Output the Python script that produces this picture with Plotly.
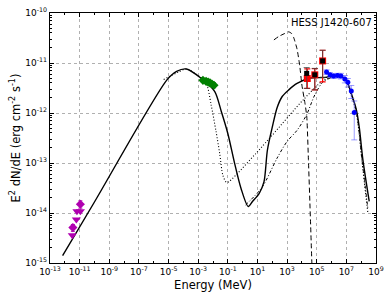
import plotly.graph_objects as go

# ---- model curves (E in MeV, E^2 dN/dE in erg cm^-2 s^-1) ----
solid_E = [7.1e-13, 1e-10, 7.8e-6, 3.5e-5, 1.6e-4, 1.66e-3, 1.29e-2, 3.55e-2, 1e-1, 2.8e-1,
           7.8e-1, 2.4, 4.6, 12.9, 27.5, 46.8, 100, 214, 468, 1290, 4700, 3.5e4, 2.75e5,
           4.7e5, 3.4e6, 1e7, 2.1e7, 4.7e7, 7.4e7, 1.3e8, 3.5e8]
solid_F = [1.41e-15, 1.66e-14, 4.6e-12, 6.8e-12, 7.6e-12, 4.9e-12, 2.7e-12, 1.1e-12, 3.9e-13, 1.02e-13,
           3.1e-14, 1.35e-14, 1.7e-14, 2.45e-14, 4.2e-14, 1.8e-13, 5.2e-13, 1.29e-12, 2.14e-12, 2.9e-12, 3.9e-12, 5.0e-12, 5.1e-12,
           5.2e-12, 5.6e-12, 4.5e-12, 2.5e-12, 1.17e-12, 5.2e-13, 1.17e-13, 1.7e-14]

dot_E = [4.7e-6, 4.7e-5, 1.6e-4, 1e-3, 3.4e-3, 7.4e-3, 1.58e-2, 2.8e-2, 4.7e-2, 8e-2, 1.26e-1,
         47, 1.29e4, 2.95e5, 3.4e6, 1e7, 2.1e7, 4.7e7, 1.17e8, 2.8e8]
dot_F = [4.7e-12, 6.6e-12, 7.6e-12, 5.6e-12, 4.0e-12, 1.48e-12, 4.4e-13, 1.58e-13, 5.6e-14, 4.1e-14, 4.3e-14,
         2.8e-13, 1.86e-12, 4.5e-12, 5.4e-12, 4.3e-12, 2.3e-12, 1.02e-12, 1.0e-13, 1.02e-14]

dd_E = [1.6, 21, 214, 1000, 4700, 2.1e4, 7.4e4, 2.95e5, 3.4e6, 1e7, 2.1e7, 4.7e7, 1.17e8, 2.8e8]
dd_F = [1.45e-14, 3.3e-14, 1.26e-13, 2.7e-13, 4.5e-13, 9.3e-13, 2.3e-12, 4.3e-12, 5.5e-12, 4.4e-12, 2.4e-12, 1.1e-12, 1.07e-13, 1.26e-14]

dash_E = [129, 275, 700, 1290, 2000, 2820, 4700, 7100, 1e4, 1.66e4, 2.14e4, 2.75e4, 3.55e4, 4.7e4]
dash_F = [2.9e-11, 3.4e-11, 3.9e-11, 4.2e-11, 3.9e-11, 3.2e-11, 1.9e-11, 8.9e-12, 3.6e-12, 1.48e-12, 8.3e-13, 1.17e-13, 1.26e-14, 1.0e-15]

# ---- data points ----
radio_E = [1.12e-11, 3.5e-12]
radio_F = [1.5e-14, 5.1e-15]
radio_err = [2.5e-15, 8e-16]
ul_E = [6.6e-12, 1.12e-11, 6.0e-12, 3.2e-12]
ul_F = [1.08e-14, 1.08e-14, 7.4e-15, 3.6e-15]

xray_E = [2.1e-3, 3.4e-3, 4.7e-3, 6.3e-3, 8.5e-3, 1.17e-2]
xray_F = [4.5e-12, 4.3e-12, 4.15e-12, 4.0e-12, 3.8e-12, 3.6e-12]
xray_err = [4e-13, 4e-13, 4e-13, 4e-13, 4e-13, 4e-13]

lat_E = [2.1e4, 7.4e4, 2.5e5]
lat_F = [6.2e-12, 5.8e-12, 1.1e-11]
lat_up = [1.9e-12, 2.0e-12, 7.0e-12]
lat_dn = [3.1e-12, 2.9e-12, 5.8e-12]

lat2_E = [2.3e4, 7.4e4, 2.5e5]
lat2_F = [4.9e-12, 5.8e-12, 1.1e-11]
lat2_up = [2.7e-12, 1.9e-12, 7.0e-12]
lat2_dn = [1.8e-12, 2.9e-12, 6.8e-12]

hess_E = [4.6e5, 7.9e5, 1.36e6, 2.5e6, 4.3e6, 7.9e6, 1.26e7, 2.15e7, 3.4e7]
hess_F = [6.6e-12, 5.8e-12, 5.5e-12, 5.6e-12, 5.5e-12, 4.8e-12, 4.1e-12, 2.75e-12, 1.02e-12]
hess_up = [7e-13, 6e-13, 6e-13, 6e-13, 7e-13, 8e-13, 8e-13, 8e-13, 7.2e-13]
hess_dn = [7e-13, 6e-13, 6e-13, 6e-13, 7e-13, 8e-13, 8e-13, 8e-13, 7.3e-13]

x_tickvals = [1e-13, 1e-11, 1e-9, 1e-7, 1e-5, 1e-3, 1e-1, 1e1, 1e3, 1e5, 1e7, 1e9]
x_ticktext = ["10<sup>-13</sup>", "10<sup>-11</sup>", "10<sup>-9</sup>", "10<sup>-7</sup>", "10<sup>-5</sup>",
              "10<sup>-3</sup>", "10<sup>-1</sup>", "10<sup>1</sup>", "10<sup>3</sup>", "10<sup>5</sup>",
              "10<sup>7</sup>", "10<sup>9</sup>"]
y_tickvals = [1e-15, 1e-14, 1e-13, 1e-12, 1e-11, 1e-10]
y_ticktext = ["10<sup>-15</sup>", "10<sup>-14</sup>", "10<sup>-13</sup>", "10<sup>-12</sup>", "10<sup>-11</sup>", "10<sup>-10</sup>"]

fig = go.Figure()

def curve(x, y, dash, width, smoothing=0.8):
    fig.add_trace(go.Scatter(x=x, y=y, mode="lines", line=dict(color="black", width=width, dash=dash,
                                                                  shape="spline", smoothing=smoothing),
                             hoverinfo="skip", showlegend=False))

curve(dot_E, dot_F, "1px,2px", 1.1)
curve(dd_E, dd_F, "3px,2px,1px,2px", 1.0)
curve(dash_E, dash_F, "5px,3px", 1.0, 0.5)
curve(solid_E, solid_F, "solid", 1.4)

purple = "#b000b0"
fig.add_trace(go.Scatter(x=radio_E, y=radio_F, mode="markers",
                         marker=dict(symbol="diamond", size=7, color=purple),
                         error_y=dict(type="data", array=radio_err, color=purple, width=2, thickness=1),
                         showlegend=False))
fig.add_trace(go.Scatter(x=ul_E, y=ul_F, mode="markers",
                         marker=dict(symbol="triangle-down", size=8, color=purple),
                         showlegend=False))
fig.add_trace(go.Scatter(x=xray_E, y=xray_F, mode="markers",
                         marker=dict(symbol="diamond", size=7, color="#008000"),
                         error_y=dict(type="data", array=xray_err, color="#008000", width=2, thickness=1),
                         showlegend=False))
fig.add_trace(go.Scatter(x=lat2_E, y=lat2_F, mode="markers",
                         marker=dict(symbol="square", size=7, color="#ff0000"),
                         error_y=dict(type="data", symmetric=False, array=lat2_up, arrayminus=lat2_dn,
                                      color="#ff0000", width=3, thickness=1.2),
                         showlegend=False))
fig.add_trace(go.Scatter(x=lat_E, y=lat_F, mode="markers",
                         marker=dict(symbol="square", size=5, color="black"),
                         error_y=dict(type="data", symmetric=False, array=lat_up, arrayminus=lat_dn,
                                      color="#444444", width=3, thickness=0.8),
                         showlegend=False))
fig.add_trace(go.Scatter(x=hess_E, y=hess_F, mode="markers",
                         marker=dict(symbol="circle", size=5, color="#0000ff"),
                         error_y=dict(type="data", symmetric=False, array=hess_up, arrayminus=hess_dn,
                                      color="rgba(90,90,255,0.6)", width=3, thickness=1),
                         showlegend=False))

axis_common = dict(type="log", showline=True, linecolor="black", linewidth=1.3, mirror="ticks",
                   ticks="inside", ticklen=4, tickcolor="black", showgrid=True,
                   gridcolor="#b0b0b0", griddash="dot", gridwidth=1, zeroline=False,
                   tickfont=dict(family="DejaVu Sans", size=9, color="black"))

y_minor = []
for d in range(-15, -10):
    for m in range(2, 10):
        y_minor.append(m * 10.0 ** d)
x_minor = [10.0 ** d for d in range(-12, 9, 2)]

fig.update_xaxes(**axis_common, range=[-13, 9], tickmode="array", tickvals=x_tickvals, ticktext=x_ticktext,
                 minor=dict(tickmode="array", tickvals=x_minor, ticks="inside", ticklen=2, tickcolor="black",
                            showgrid=False),
                 title=dict(text="Energy (MeV)", font=dict(family="DejaVu Sans", size=11.5, color="black"),
                            standoff=4))
fig.update_yaxes(**axis_common, range=[-15, -10], tickmode="array", tickvals=y_tickvals, ticktext=y_ticktext,
                 minor=dict(tickmode="array", tickvals=y_minor, ticks="inside", ticklen=2, tickcolor="black",
                            showgrid=False),
                 title=dict(text="E<sup>2</sup> dN/dE (erg cm<sup>-2</sup> s<sup>-1</sup>)",
                            font=dict(family="DejaVu Sans", size=11.5, color="black"), standoff=2))

fig.add_annotation(x=1, y=1, xref="paper", yref="paper", xanchor="right", yanchor="top",
                   text="HESS J1420-607", showarrow=False, xshift=-2, yshift=-2,
                   font=dict(family="DejaVu Sans", size=10, color="black"))

fig.update_layout(width=390, height=295, margin=dict(l=50, r=9, t=6, b=32),
                  plot_bgcolor="white", paper_bgcolor="white",
                  font=dict(family="DejaVu Sans", color="black"))

fig.write_html("out.html", config={"displayModeBar": False},
               post_script="document.body.style.margin='0px';")
